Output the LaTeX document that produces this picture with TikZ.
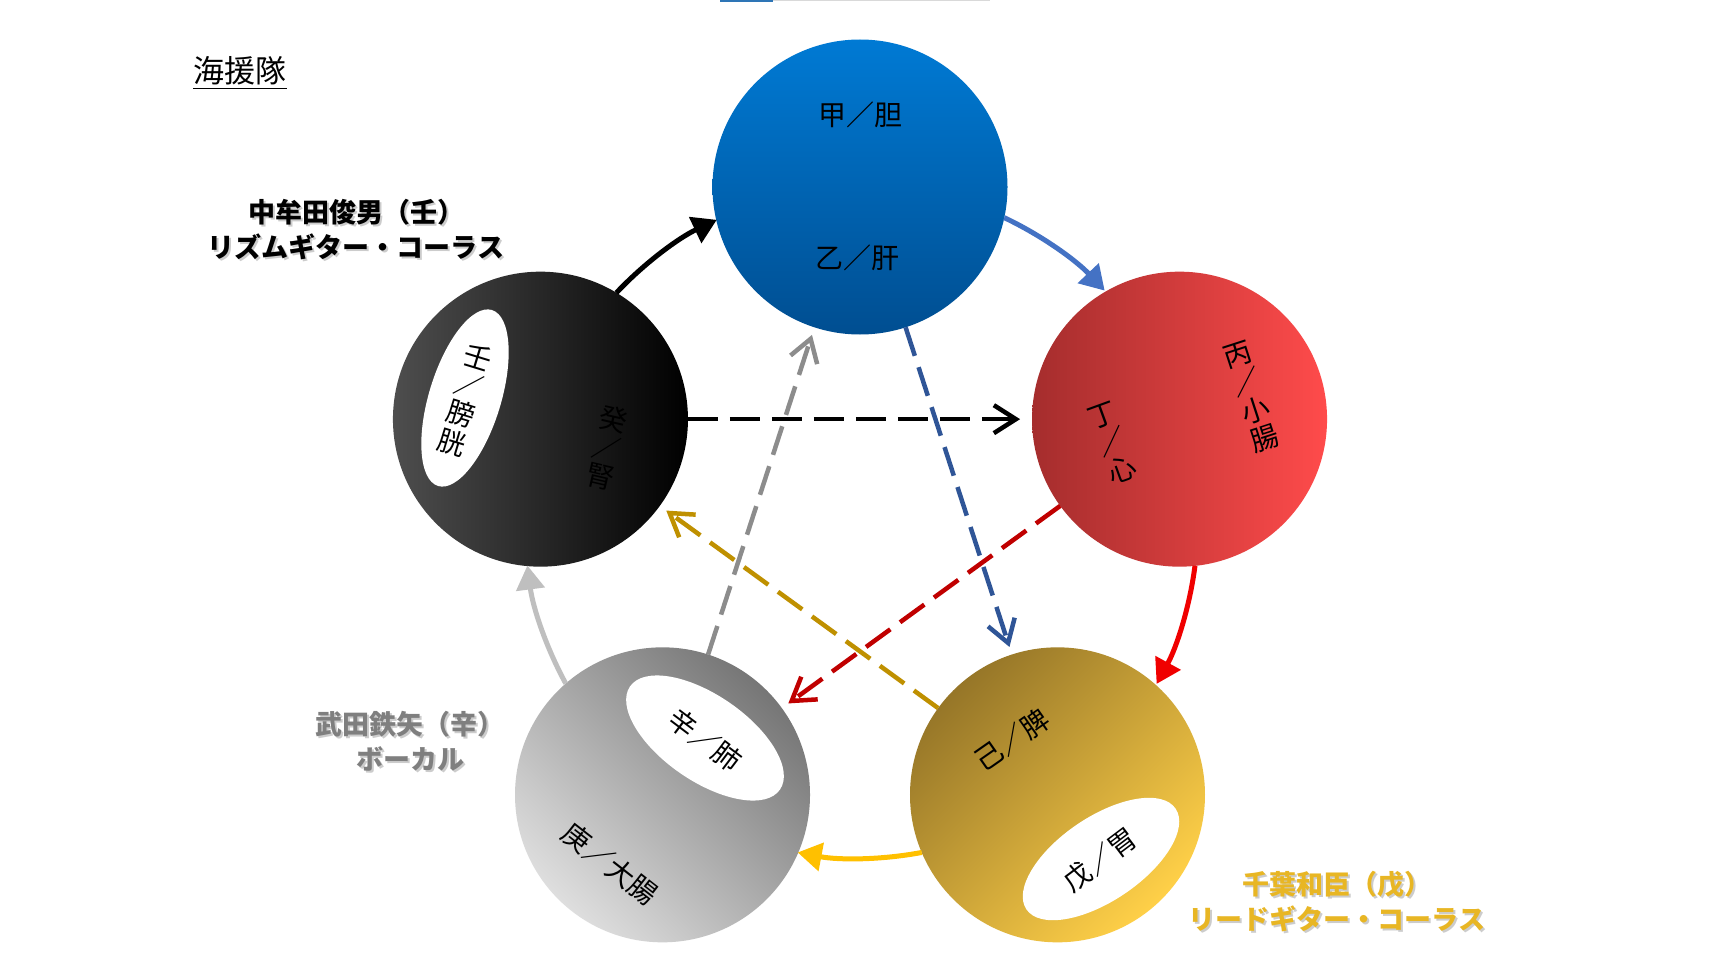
\documentclass[tikz,border=0pt]{standalone}
\usepackage{fontspec}
\newfontfamily\jp{Noto Sans CJK JP}
\usetikzlibrary{arrows.meta,shapes.geometric}
\definecolor{arcblue}{RGB}{68,114,196}
\definecolor{arcred}{RGB}{240,0,0}
\definecolor{arcgold}{RGB}{255,192,0}
\definecolor{arcgray}{RGB}{191,191,191}
\definecolor{dblue}{RGB}{47,85,151}
\definecolor{dred}{RGB}{192,0,0}
\definecolor{dgold}{RGB}{191,144,0}
\definecolor{dgray}{RGB}{140,140,140}
\definecolor{labgray}{RGB}{127,127,127}
\definecolor{labgold}{RGB}{232,182,36}
\definecolor{stripblue}{RGB}{46,117,182}
\begin{document}
\begin{tikzpicture}[x=1pt,y=1pt,
  ball/.style={circle, minimum size=295pt, inner sep=0pt, outer sep=0pt},
  hole/.style={ellipse, fill=white, inner sep=0pt, outer sep=0pt},
  ctext/.style={font=\jp\fontsize{28}{29.5}\selectfont, text=black, align=center, inner sep=0pt},
  outerarrow/.style={line width=5pt, -{Triangle[length=24pt,width=28pt]}},
  innerarrow/.style={line width=4.5pt, dash pattern=on 30pt off 12pt, -{Straight Barb[length=22pt,width=28pt]}, shorten >=8pt},
  lab/.style={font=\jp\bfseries\fontsize{27}{35}\selectfont, align=center, inner sep=0pt},
  labshadow/.style={lab, text=black!20}
]
\useasboundingbox (0,0) rectangle (1709,-958);
\fill[white] (0,0) rectangle (1709,-958);

% top strip
\fill[stripblue] (720,0) rectangle (773,-2);
\fill[black!15] (773,0) rectangle (990,-1.5);

% title
\node[font=\jp\fontsize{31}{31}\selectfont, inner sep=0pt] (ttl) at (240,-71) {海援隊};
\draw[line width=1.8pt] ([yshift=-3pt]ttl.south west) -- ([yshift=-3pt]ttl.south east);

% circles
\node[ball, top color={rgb,255:red,0;green,122;blue,212}, bottom color={rgb,255:red,0;green,78;blue,145}] (bl) at (860,-187) {};
\node[ball, left color={rgb,255:red,165;green,45;blue,45}, right color={rgb,255:red,255;green,75;blue,75}] (rd) at (1179.55,-419.17) {};
\node[ball, top color={rgb,255:red,150;green,118;blue,40}, bottom color={rgb,255:red,255;green,208;blue,72}, shading angle=45] (gd) at (1057.49,-794.83) {};
\node[ball, top color={rgb,255:red,118;green,118;blue,118}, bottom color={rgb,255:red,222;green,222;blue,222}, shading angle=-45] (gy) at (662.51,-794.83) {};
\node[ball, left color={rgb,255:red,78;green,78;blue,78}, right color=black] (bk) at (540.45,-419.17) {};

% white holes
\node[hole, minimum width=184pt, minimum height=72pt, rotate=73] (hbk) at (465,-398) {};
\node[hole, minimum width=182pt, minimum height=86pt, rotate=-34.5] (hgy) at (705,-738) {};
\node[hole, minimum width=180pt, minimum height=84pt, rotate=34] (hgd) at (1101,-859) {};

% circle texts
\node[ctext] (t1) at (860,-115) {甲／胆};
\node[ctext] (t2) at (857,-258) {乙／肝};
\node[ctext, rotate=18] (t3) at (1251,-397) {丙\\／\\小\\腸};
\node[ctext, rotate=20] (t4) at (1112,-443) {丁\\／\\心};
\node[ctext, rotate=35] (t5) at (1012,-740) {己／脾};
\node[ctext, rotate=37] (t6) at (1100,-860) {戊／胃};
\node[ctext, rotate=-37] (t7) at (705,-740) {辛／肺};
\node[ctext, rotate=-38] (t8) at (610,-864) {庚／大腸};
\node[ctext, rotate=-17] (t9) at (465,-400) {壬\\／\\膀\\胱};
\node[ctext, rotate=-13] (t10) at (607,-448) {癸\\／\\腎};

% outer cycle arcs
\draw[outerarrow, black] (bk.59.32) arc[start angle=136.64, end angle=115.36, radius=336pt];
\draw[outerarrow, arcblue] (bl.-12.68) arc[start angle=64.64, end angle=43.36, radius=336pt];
\draw[outerarrow, arcred] (rd.-84.68) arc[start angle=-7.36, end angle=-28.64, radius=336pt];
\draw[outerarrow, arcgold] (gd.203.32) arc[start angle=-79.36, end angle=-100.64, radius=336pt];
\draw[outerarrow, arcgray] (gy.131.32) arc[start angle=-151.36, end angle=-172.64, radius=336pt];

% inner star
\draw[innerarrow, black, shorten >=12pt] (bk) -- (rd);
\draw[innerarrow, dblue] (bl) -- (gd);
\draw[innerarrow, dred] (rd) -- (gy);
\draw[innerarrow, dgold] (gd) -- (bk);
\draw[innerarrow, dgray] (gy) -- (bl);

% labels
\node[labshadow] (s1) at (358,-232) {中牟田俊男（壬）\\リズムギター・コーラス};
\node[lab, text=black] (l1) at (356,-230) {中牟田俊男（壬）\\リズムギター・コーラス};
\node[labshadow] (s2) at (412,-743) {武田鉄矢（辛）\\ボーカル};
\node[lab, text=labgray] (l2) at (410,-741) {武田鉄矢（辛）\\ボーカル};
\node[labshadow] (s3) at (1339,-904) {千葉和臣（戊）\\リードギター・コーラス};
\node[lab, text=labgold] (l3) at (1337,-902) {千葉和臣（戊）\\リードギター・コーラス};
\end{tikzpicture}
\end{document}
